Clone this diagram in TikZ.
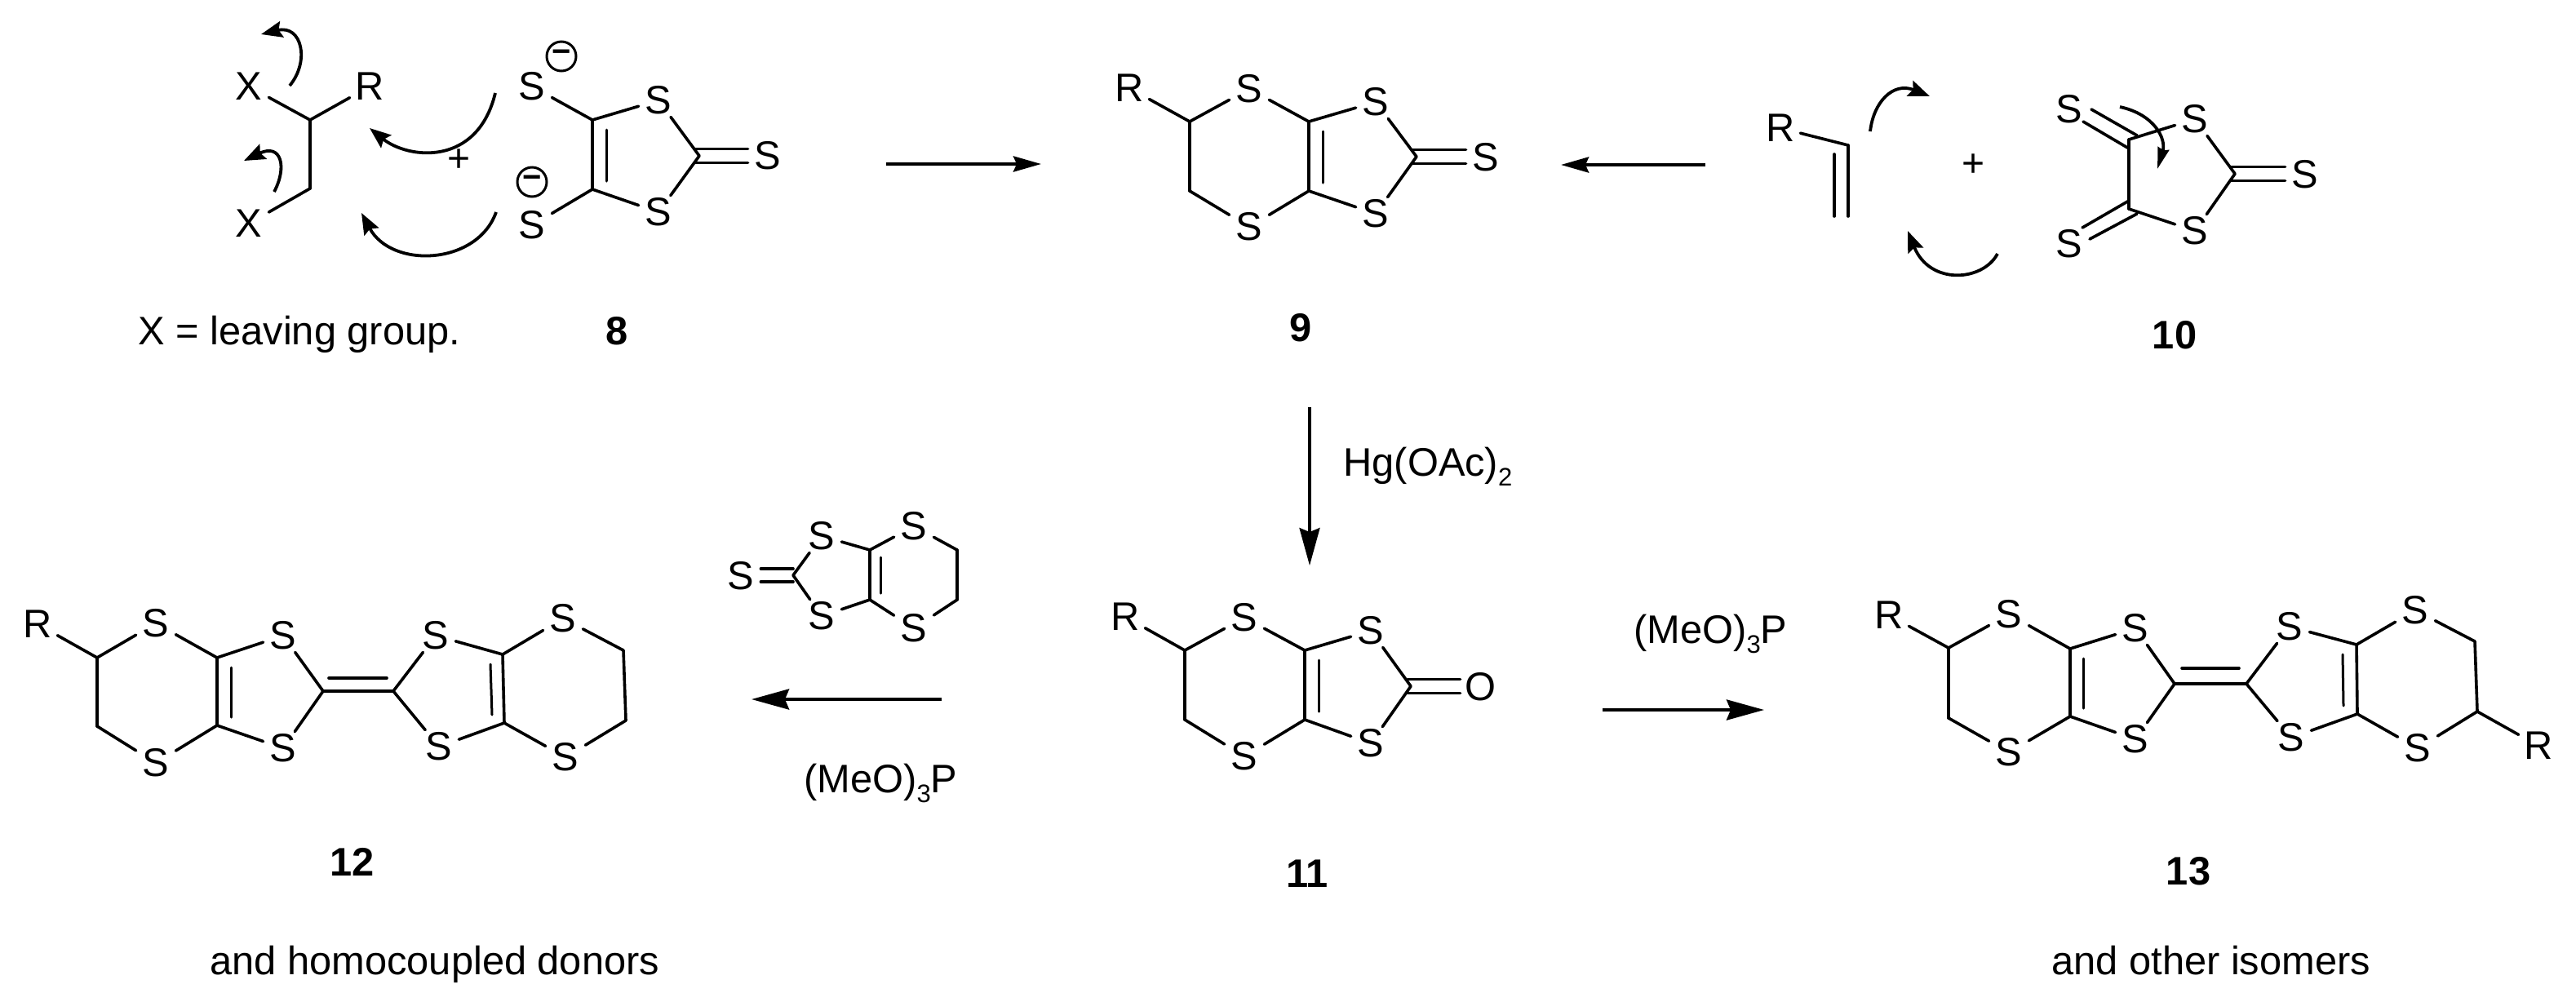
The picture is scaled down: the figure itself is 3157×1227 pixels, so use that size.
\documentclass[tikz,border=0pt]{standalone}
\usepackage{fontspec}
\setmainfont{Liberation Sans}
\usetikzlibrary{arrows.meta}
\tikzset{
  atom/.style={rectangle,inner sep=0pt,minimum width=24pt,minimum height=20pt,font=\fontsize{24.4}{24.4}\selectfont},
  bond/.style={line width=1.8pt,line cap=round},
  inner bond/.style={line width=1.5pt,line cap=round},
  label text/.style={inner sep=0pt,anchor=base west,font=\fontsize{24.4}{24.4}\selectfont},
  compound/.style={inner sep=0pt,anchor=base,font=\fontsize{24.4}{24.4}\selectfont\bfseries},
  plus sign/.style={inner sep=0pt,font=\fontsize{24}{24}\selectfont},
  charge/.style={circle,draw,line width=1.5pt,inner sep=0pt,minimum size=18pt,font=\fontsize{20}{20}\selectfont\bfseries},
  curly/.style={line width=1.9pt,-{Stealth[length=13pt,width=10pt,inset=2pt]}},
  rxn small/.style={line width=2.1pt,-{Stealth[length=17pt,width=9.5pt,inset=2pt]}},
  rxn big/.style={line width=2.1pt,-{Stealth[length=23pt,width=12.5pt,inset=2.5pt]}},
  rxn thin/.style={line width=1.6pt,-{Stealth[length=23pt,width=12.5pt,inset=2.5pt]}},
}
\newcommand{\atoms}[1]{\foreach \n/\x/\y/\t in {#1} {\node[atom] (\n) at (\x,\y) {\t};}}
\newcommand{\carbons}[1]{\foreach \n/\x/\y in {#1} {\coordinate (\n) at (\x,\y);}}
\newcommand{\bonds}[1]{\foreach \a/\b in {#1} {\draw[bond] (\a) -- (\b);}}
% double bond from carbon #1 to the side #2 of an atom; #3 = x shift of start
\newcommand{\exobond}[3]{%
  \coordinate (tmpa) at ([shift={(#3,-8.5)}]#1);
  \coordinate (tmpb) at ([shift={(#3,8.5)}]#1);
  \draw[bond] (tmpa) -- (tmpa -| #2);
  \draw[bond] (tmpb) -- (tmpb -| #2);}
\newcommand{\ringinner}[3]{\draw[inner bond] ([shift={(#3,12)}]#1) -- ([shift={(#3,-10)}]#2);}
\newcommand{\subthree}{\raisebox{-6pt}{\fontsize{15.5}{15.5}\selectfont 3}}
\begin{document}
\begin{tikzpicture}[x=0.5pt,y=-0.5pt]
\useasboundingbox[fill=white] (0,0) rectangle (3157,1227);

% leaving-group partner
\atoms{aXa/305/106/X,aR/453/106/R,aXb/305/274/X}
\carbons{aca/380/147,acb/380/231}
\bonds{aXa/aca,aR/aca,aca/acb,acb/aXb}
\coordinate (cua) at (355,105); \coordinate (cub) at (320,42);
\draw[curly] (cua) .. controls (380,75) and (370,30) .. (cub);
\coordinate (cuc) at (336,235); \coordinate (cud) at (299,197);
\draw[curly] (cuc) .. controls (352,205) and (345,175) .. (cud);
\coordinate (cue) at (607,114); \coordinate (cuf) at (453,157);
\draw[curly] (cue) .. controls (585,205) and (500,195) .. (cuf);
\coordinate (cug) at (608,260); \coordinate (cuh) at (443,261);
\draw[curly] (cug) .. controls (585,325) and (480,330) .. (cuh);
\node[plus sign] (plusa) at (563,197) {+};

% compound 8
\atoms{hSa/652/106/S,hSb/652/276/S,hSc/807/123/S,hSd/807/260/S,hSe/941/191/S}
\carbons{hca/726/147,hcb/726/232,hcc/857/191}
\bonds{hSa/hca,hca/hcb,hcb/hSb,hca/hSc,hcb/hSd,hSc/hcc,hSd/hcc}
\ringinner{hca}{hcb}{17}
\exobond{hcc}{hSe.west}{-5}
\node[charge] (mina) at (688,69) {−};
\node[charge] (minb) at (652,223) {−};

% compound 9
\atoms{iR/1384/108/R,iSa/1531/109/S,iSb/1531/278/S,iSc/1686/125/S,iSd/1686/262/S,iSe/1821/193/S}
\carbons{ica/1458/149,icb/1458/234,icc/1604/149,icd/1604/234,ice/1736/192}
\bonds{iR/ica,ica/iSa,iSa/icc,ica/icb,icb/iSb,iSb/icd,icc/icd,icc/iSc,icd/iSd,iSc/ice,iSd/ice}
\ringinner{icc}{icd}{17}
\exobond{ice}{iSe.west}{-5}

% alkene
\atoms{jR/2182/157/R}
\carbons{jca/2265/178,jcb/2265/265,jcc/2248/189,jcd/2248/265}
\bonds{jR/jca,jca/jcb,jcc/jcd}
\coordinate (cui) at (2292,161); \coordinate (cuj) at (2365,118);
\draw[curly] (cui) .. controls (2296,125) and (2320,100) .. (cuj);
\coordinate (cuk) at (2448,311); \coordinate (cul) at (2338,283);
\draw[curly] (cuk) .. controls (2430,345) and (2365,350) .. (cul);
\node[plus sign] (plusb) at (2418,203) {+};

% compound 10
\atoms{kSa/2536/134/S,kSb/2536/299/S,kSc/2690/146/S,kSd/2690/283/S,kSe/2825/214/S}
\carbons{kca/2609/171,kcb/2609/256,kcc/2739/213,kda/2553/149,kdb/2609/182,kdc/2563/134,kdd/2619/166,kde/2552/279,kdf/2609/246,kdg/2561/293,kdh/2619/262}
\bonds{kca/kcb,kca/kSc,kcb/kSd,kSc/kcc,kSd/kcc,kda/kdb,kdc/kdd,kde/kdf,kdg/kdh}
\exobond{kcc}{kSe.west}{-5}
\coordinate (cum) at (2598,131); \coordinate (cun) at (2644,207);
\draw[line width=1.9pt,-{Stealth[length=13pt,width=7pt,inset=1pt]}] (cum) .. controls (2640,140) and (2655,170) .. (cun);

% reaction arrows, top
\coordinate (ara) at (1086,201); \coordinate (arb) at (1276,201);
\draw[rxn small] (ara) -- (arb);
\coordinate (arc) at (2090,202); \coordinate (ard) at (1913,202);
\draw[rxn small] (arc) -- (ard);
\coordinate (are) at (1605,499); \coordinate (arf) at (1605,693);
\draw[rxn thin] (are) -- (arf);
\coordinate (arg) at (1154,857); \coordinate (arh) at (921,857);
\draw[rxn big] (arg) -- (arh);
\coordinate (ari) at (1964,870); \coordinate (arj) at (2162,870);
\draw[rxn big] (ari) -- (arj);

% compound 11
\atoms{mR/1379/756/R,mSa/1525/757/S,mSb/1525/927/S,mSc/1680/773/S,mSd/1680/911/S,mO/1814/842/O}
\carbons{mca/1452/797,mcb/1452/882,mcc/1599/797,mcd/1599/882,mce/1729/841}
\bonds{mR/mca,mca/mSa,mSa/mcc,mca/mcb,mcb/mSb,mSb/mcd,mcc/mcd,mcc/mSc,mcd/mSd,mSc/mce,mSd/mce}
\ringinner{mcc}{mcd}{17}
\exobond{mce}{mO.west}{-4}

% compound 12
\atoms{pR/46/765/R,pSa/191/764/S,pSb/191/935/S,pSc/347/779/S,pSd/347/917/S,pSe/534/779/S,pSf/538/915/S,pSg/690/758/S,pSh/693/928/S}
\carbons{pca/119/806,pcb/119/890,pcc/266/806,pcd/266/889,pce/396/847,pcf/482/847,pcg/616/802,pch/618/886,pci/764/797,pcj/767/883,pda/403/831,pdb/474/831}
\bonds{pR/pca,pca/pSa,pSa/pcc,pca/pcb,pcb/pSb,pSb/pcd,pcc/pcd,pcc/pSc,pcd/pSd,pSc/pce,pSd/pce,pce/pcf,pda/pdb,pcf/pSe,pcf/pSf,pSe/pcg,pSf/pch,pcg/pch,pcg/pSg,pch/pSh,pSg/pci,pci/pcj,pcj/pSh}
\ringinner{pcc}{pcd}{17}
\ringinner{pcg}{pch}{-15}

% reagent above the arrow to 12
\atoms{qSa/908/706/S,qSb/1007/657/S,qSc/1007/755/S,qSd/1120/645/S,qSe/1120/770/S}
\carbons{qca/972/705,qcb/1066/674,qcc/1066/735,qcd/1173/674,qce/1173/735}
\bonds{qSb/qca,qSc/qca,qSb/qcb,qSc/qcc,qcb/qcc,qcb/qSd,qcc/qSe,qSd/qcd,qcd/qce,qce/qSe}
\draw[inner bond] ([shift={(13,9)}]qcb) -- ([shift={(13,-8)}]qcc);
\coordinate (tmpc) at (972,697); \coordinate (tmpd) at (972,713);
\draw[bond] (tmpc) -- (tmpc -| qSa.east);
\draw[bond] (tmpd) -- (tmpd -| qSa.east);

% compound 13
\atoms{rR/2315/754/R,rSa/2462/753/S,rSb/2462/922/S,rSc/2617/770/S,rSd/2617/906/S,rSe/2806/768/S,rSf/2808/904/S,rSg/2960/748/S,rSh/2963/917/S,rRb/3111/914/R}
\carbons{rca/2388/794,rcb/2388/880,rcc/2537/795,rcd/2537/878,rce/2665/838,rcf/2753/838,rcg/2888/790,rch/2889/875,rci/3033/786,rcj/3036/872,rda/2674/819,rdb/2744/819}
\bonds{rR/rca,rca/rSa,rSa/rcc,rca/rcb,rcb/rSb,rSb/rcd,rcc/rcd,rcc/rSc,rcd/rSd,rSc/rce,rSd/rce,rce/rcf,rda/rdb,rcf/rSe,rcf/rSf,rSe/rcg,rSf/rch,rcg/rch,rcg/rSg,rch/rSh,rSg/rci,rci/rcj,rcj/rSh,rcj/rRb}
\ringinner{rcc}{rcd}{16}
\ringinner{rcg}{rch}{-17}

% texts
\node[label text] (ta) at (169,422) {X = leaving group.};
\node[compound] (na) at (756,422) {8};
\node[compound] (nb) at (1594,418) {9};
\node[compound] (nc) at (2665,427) {10};
\node[label text] (tb) at (1646,583) {Hg(OAc)\raisebox{-6pt}{\fontsize{15.5}{15.5}\selectfont 2}};
\node[label text] (tc) at (985,971) {(MeO)\subthree P};
\node[label text] (td) at (2002,788) {(MeO)\subthree P};
\node[compound] (nd) at (432,1073) {12};
\node[compound] (ne) at (1602,1087) {11};
\node[compound] (nf) at (2682,1084) {13};
\node[label text] (te) at (257,1194) {and homocoupled donors};
\node[label text] (tf) at (2514,1194) {and other isomers};
\end{tikzpicture}
\end{document}
